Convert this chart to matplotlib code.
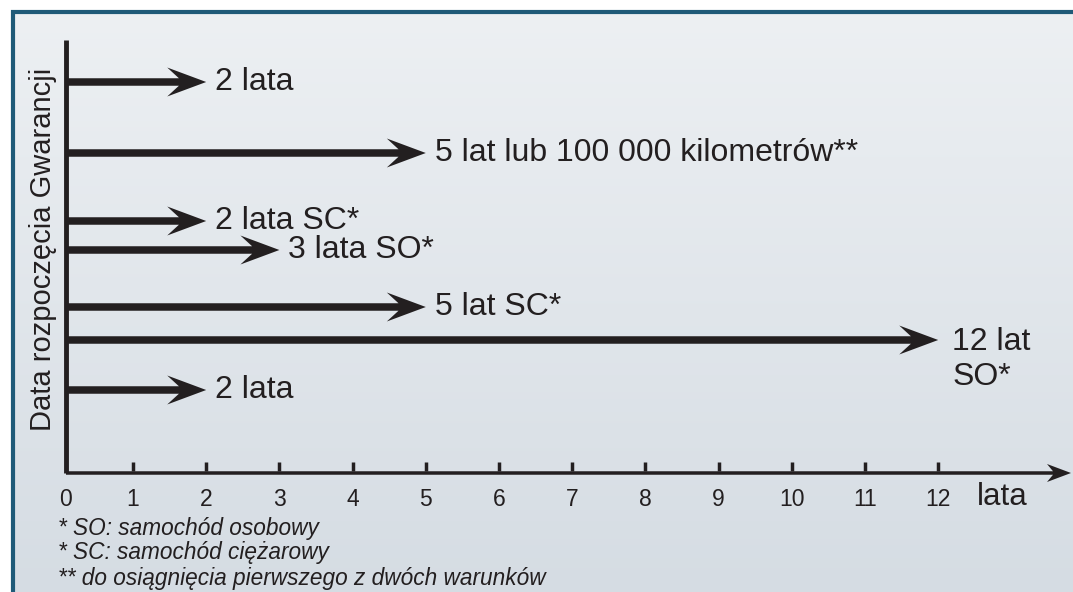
import matplotlib.pyplot as plt
import numpy as np

# warranty periods (years) and their labels, top to bottom
years = [2, 5, 2, 3, 5, 12, 2]
labels = ["2 lata", "5 lat lub 100 000 kilometrów**", "2 lata SC*", "3 lata SO*",
          "5 lat SC*", "12 lat\nSO*", "2 lata"]
# vertical position of each row (start date axis, top = 0)
rows = [82, 153, 221, 250, 307, 340, 390]
ticks = list(range(13))
footnotes = ["* SO: samochód osobowy",
             "* SC: samochód ciężarowy",
             "** do osiągnięcia pierwszego z dwóch warunków"]

plt.rcParams['font.family'] = ['Liberation Sans', 'DejaVu Sans']
ink = '#231f20'

W, H = 1073, 592
fig = plt.figure(figsize=(W / 100, H / 100), dpi=100)
ax = fig.add_axes([0, 0, 1, 1])

# pixel mapping: year 0 at x=59.8 px, 73.2 px per year
x0px, pxy = 59.8, 73.2
ax.set_xlim(-x0px / pxy, (W - x0px) / pxy)
ax.set_ylim(H, 0)
ax.axis('off')

def xd(px):
    return (px - x0px) / pxy

# background: white outside frame, gradient inside
grad = np.linspace(0, 1, 256).reshape(-1, 1)
top = np.array([0.929, 0.941, 0.953])
bot = np.array([0.835, 0.863, 0.890])
img = top + grad[..., None] * (bot - top)
ax.imshow(img, extent=[xd(12), xd(W + 5), H + 5, 10], aspect='auto', zorder=0)
ax.plot([xd(13), xd(13), xd(W + 5)], [H + 5, 11.5, 11.5], color='#1f5a78', lw=3,
        solid_joinstyle='miter', zorder=1)

# axes
yaxis_x = xd(66)
ax.plot([yaxis_x, yaxis_x], [40, 473], color=ink, lw=3.5, solid_capstyle='butt', zorder=3)
ax.arrow(yaxis_x, 473, xd(1071) - yaxis_x, 0, width=3.5, head_width=18,
         head_length=24 / pxy, overhang=0.25, length_includes_head=True,
         color=ink, lw=0, zorder=3)
for t in ticks[1:]:
    ax.plot([t, t], [462, 471], color=ink, lw=2.5, solid_capstyle='butt', zorder=3)
for t in ticks:
    tx = yaxis_x if t == 0 else t
    ax.text(tx, 500, str(t), ha='center', va='center', fontsize=16.5, color=ink)
ax.text(xd(1002), 497, "lata", ha='center', va='center', fontsize=22.5, color=ink)

ax.text(xd(43), 249, "Data rozpoczęcia Gwarancji", rotation=90, ha='center',
        va='center', fontsize=21, color=ink)

# warranty arrows
for yr, lab, r in zip(years, labels, rows):
    ax.arrow(yaxis_x, r, yr - yaxis_x, 0, width=7.5, head_width=29,
             head_length=39 / pxy, overhang=0.3, length_includes_head=True,
             color=ink, lw=0, zorder=4)
    if '\n' in lab:
        ax.text(yr + 14 / pxy, r - 13, lab, ha='left', va='top', fontsize=23,
                color=ink, linespacing=1.2)
    else:
        ax.text(yr + 9 / pxy, r, lab, ha='left', va='center', fontsize=23, color=ink)

for i, fn in enumerate(footnotes):
    ax.text(xd(58), 528 + 25 * i, fn, ha='left', va='center', fontsize=16.3,
            style='italic', color=ink)

fig.savefig('out.png', dpi=100)
